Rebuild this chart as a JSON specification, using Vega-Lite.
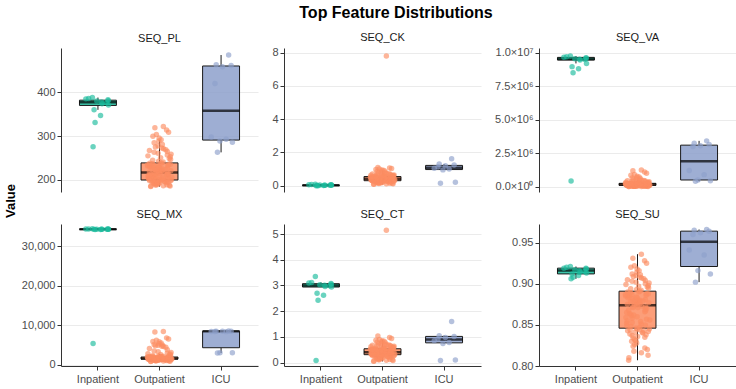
{
"$schema":"https://vega.github.io/schema/vega-lite/v6.json",
"padding":{"left":4,"right":4,"top":4,"bottom":4},
"title":{"text":"Top Feature Distributions","fontSize":16,"fontWeight":"bold","color":"#000000","anchor":"middle","dx":26,"offset":11},
"config":{"view":{"stroke":null},"font":"Liberation Sans",
 "title":{"font":"Liberation Sans","fontSize":11,"fontWeight":"normal","color":"#1a1a1a","offset":4},
 "axis":{"labelFont":"Liberation Sans","labelFontSize":11,"labelColor":"#4d4d4d","domainColor":"#333333","tickColor":"#333333","gridColor":"#ebebeb","tickSize":4,"labelPadding":2,"labelOverlap":false},
 "axisY":{"grid":true},"axisX":{"grid":false,"labelPadding":3}},
"datasets":{
"box":[
{"f":"PL","g":"Inpatient","lo":360,"q1":370,"med":377,"q3":382,"hi":388},
{"f":"PL","g":"Outpatient","lo":185,"q1":200,"med":217,"q3":239,"hi":291},
{"f":"PL","g":"ICU","lo":263,"q1":291,"med":358,"q3":460,"hi":485},
{"f":"CK","g":"Inpatient","lo":0,"q1":0,"med":0.02,"q3":0.04,"hi":0.09},
{"f":"CK","g":"Outpatient","lo":0.08,"q1":0.3,"med":0.42,"q3":0.55,"hi":0.91},
{"f":"CK","g":"ICU","lo":0.95,"q1":0.97,"med":1.08,"q3":1.22,"hi":1.3},
{"f":"VA","g":"Inpatient","lo":9200000,"q1":9450000,"med":9530000,"q3":9650000,"hi":9750000},
{"f":"VA","g":"Outpatient","lo":10000,"q1":100000,"med":160000,"q3":250000,"hi":460000},
{"f":"VA","g":"ICU","lo":400000,"q1":500000,"med":1900000,"q3":3100000,"hi":3420000},
{"f":"MX","g":"Inpatient","lo":34280,"q1":34300,"med":34340,"q3":34400,"hi":34450},
{"f":"MX","g":"Outpatient","lo":800,"q1":1420,"med":1550,"q3":1950,"hi":2700},
{"f":"MX","g":"ICU","lo":2950,"q1":4300,"med":8450,"q3":8500,"hi":8550},
{"f":"CT","g":"Inpatient","lo":2.94,"q1":2.94,"med":3.0,"q3":3.07,"hi":3.12},
{"f":"CT","g":"Outpatient","lo":0.05,"q1":0.31,"med":0.4,"q3":0.54,"hi":0.87},
{"f":"CT","g":"ICU","lo":0.74,"q1":0.77,"med":0.9,"q3":1.02,"hi":1.05},
{"f":"SU","g":"Inpatient","lo":0.906,"q1":0.912,"med":0.916,"q3":0.919,"hi":0.921},
{"f":"SU","g":"Outpatient","lo":0.807,"q1":0.846,"med":0.874,"q3":0.891,"hi":0.936},
{"f":"SU","g":"ICU","lo":0.902,"q1":0.921,"med":0.951,"q3":0.964,"hi":0.966}
],
"pts":[
{"g":"Outpatient","j":14,"PL":185,"CK":0.08,"VA":10000,"MX":800,"CT":0.05,"SU":0.807},
{"g":"Outpatient","j":15,"PL":186,"CK":0.10,"VA":12000,"MX":850,"CT":0.06,"SU":0.810},
{"g":"Outpatient","j":92,"PL":186,"CK":0.11,"VA":18000,"MX":900,"CT":0.08,"SU":0.813},
{"g":"Outpatient","j":65,"PL":187,"CK":0.12,"VA":21000,"MX":930,"CT":0.09,"SU":0.816},
{"g":"Outpatient","j":35,"PL":188,"CK":0.13,"VA":24000,"MX":960,"CT":0.10,"SU":0.818},
{"g":"Outpatient","j":89,"PL":188,"CK":0.14,"VA":28000,"MX":1000,"CT":0.11,"SU":0.820},
{"g":"Outpatient","j":79,"PL":189,"CK":0.15,"VA":31000,"MX":1030,"CT":0.12,"SU":0.822},
{"g":"Outpatient","j":32,"PL":190,"CK":0.16,"VA":34000,"MX":1060,"CT":0.13,"SU":0.824},
{"g":"Outpatient","j":38,"PL":190,"CK":0.17,"VA":38000,"MX":1090,"CT":0.14,"SU":0.826},
{"g":"Outpatient","j":46,"PL":191,"CK":0.18,"VA":41000,"MX":1110,"CT":0.15,"SU":0.828},
{"g":"Outpatient","j":26,"PL":192,"CK":0.19,"VA":44000,"MX":1140,"CT":0.16,"SU":0.830},
{"g":"Outpatient","j":43,"PL":192,"CK":0.19,"VA":48000,"MX":1160,"CT":0.17,"SU":0.831},
{"g":"Outpatient","j":38,"PL":193,"CK":0.20,"VA":51000,"MX":1180,"CT":0.18,"SU":0.832},
{"g":"Outpatient","j":32,"PL":193,"CK":0.21,"VA":54000,"MX":1200,"CT":0.19,"SU":0.834},
{"g":"Outpatient","j":79,"PL":194,"CK":0.22,"VA":57000,"MX":1220,"CT":0.20,"SU":0.835},
{"g":"Outpatient","j":50,"PL":194,"CK":0.22,"VA":61000,"MX":1240,"CT":0.20,"SU":0.836},
{"g":"Outpatient","j":28,"PL":195,"CK":0.23,"VA":64000,"MX":1250,"CT":0.21,"SU":0.837},
{"g":"Outpatient","j":84,"PL":195,"CK":0.24,"VA":67000,"MX":1270,"CT":0.22,"SU":0.838},
{"g":"Outpatient","j":19,"PL":196,"CK":0.24,"VA":70000,"MX":1280,"CT":0.23,"SU":0.839},
{"g":"Outpatient","j":71,"PL":196,"CK":0.25,"VA":73000,"MX":1300,"CT":0.24,"SU":0.840},
{"g":"Outpatient","j":69,"PL":197,"CK":0.26,"VA":77000,"MX":1310,"CT":0.24,"SU":0.841},
{"g":"Outpatient","j":39,"PL":197,"CK":0.26,"VA":80000,"MX":1320,"CT":0.25,"SU":0.841},
{"g":"Outpatient","j":93,"PL":198,"CK":0.27,"VA":83000,"MX":1330,"CT":0.26,"SU":0.842},
{"g":"Outpatient","j":75,"PL":198,"CK":0.27,"VA":86000,"MX":1340,"CT":0.26,"SU":0.843},
{"g":"Outpatient","j":10,"PL":198,"CK":0.28,"VA":89000,"MX":1350,"CT":0.27,"SU":0.843},
{"g":"Outpatient","j":58,"PL":199,"CK":0.28,"VA":92000,"MX":1360,"CT":0.28,"SU":0.844},
{"g":"Outpatient","j":20,"PL":199,"CK":0.29,"VA":95000,"MX":1370,"CT":0.28,"SU":0.844},
{"g":"Outpatient","j":97,"PL":200,"CK":0.29,"VA":98000,"MX":1380,"CT":0.29,"SU":0.845},
{"g":"Outpatient","j":49,"PL":200,"CK":0.30,"VA":101000,"MX":1390,"CT":0.30,"SU":0.845},
{"g":"Outpatient","j":44,"PL":200,"CK":0.30,"VA":104000,"MX":1400,"CT":0.31,"SU":0.846},
{"g":"Outpatient","j":59,"PL":201,"CK":0.31,"VA":107000,"MX":1405,"CT":0.31,"SU":0.847},
{"g":"Outpatient","j":23,"PL":201,"CK":0.31,"VA":110000,"MX":1410,"CT":0.31,"SU":0.848},
{"g":"Outpatient","j":7,"PL":202,"CK":0.32,"VA":113000,"MX":1415,"CT":0.32,"SU":0.849},
{"g":"Outpatient","j":81,"PL":202,"CK":0.32,"VA":116000,"MX":1420,"CT":0.32,"SU":0.850},
{"g":"Outpatient","j":64,"PL":203,"CK":0.33,"VA":118000,"MX":1425,"CT":0.32,"SU":0.851},
{"g":"Outpatient","j":6,"PL":203,"CK":0.33,"VA":121000,"MX":1430,"CT":0.33,"SU":0.852},
{"g":"Outpatient","j":28,"PL":204,"CK":0.34,"VA":123000,"MX":1435,"CT":0.33,"SU":0.853},
{"g":"Outpatient","j":62,"PL":205,"CK":0.34,"VA":126000,"MX":1440,"CT":0.33,"SU":0.854},
{"g":"Outpatient","j":8,"PL":205,"CK":0.34,"VA":128000,"MX":1445,"CT":0.34,"SU":0.855},
{"g":"Outpatient","j":99,"PL":206,"CK":0.35,"VA":130000,"MX":1450,"CT":0.34,"SU":0.856},
{"g":"Outpatient","j":86,"PL":206,"CK":0.35,"VA":132000,"MX":1455,"CT":0.34,"SU":0.857},
{"g":"Outpatient","j":28,"PL":207,"CK":0.36,"VA":134000,"MX":1460,"CT":0.35,"SU":0.858},
{"g":"Outpatient","j":3,"PL":208,"CK":0.36,"VA":136000,"MX":1465,"CT":0.35,"SU":0.859},
{"g":"Outpatient","j":48,"PL":208,"CK":0.36,"VA":138000,"MX":1470,"CT":0.35,"SU":0.860},
{"g":"Outpatient","j":25,"PL":209,"CK":0.37,"VA":140000,"MX":1475,"CT":0.36,"SU":0.861},
{"g":"Outpatient","j":34,"PL":209,"CK":0.37,"VA":142000,"MX":1480,"CT":0.36,"SU":0.862},
{"g":"Outpatient","j":21,"PL":210,"CK":0.38,"VA":144000,"MX":1485,"CT":0.36,"SU":0.863},
{"g":"Outpatient","j":17,"PL":211,"CK":0.38,"VA":146000,"MX":1490,"CT":0.37,"SU":0.864},
{"g":"Outpatient","j":6,"PL":211,"CK":0.38,"VA":148000,"MX":1495,"CT":0.37,"SU":0.865},
{"g":"Outpatient","j":79,"PL":212,"CK":0.39,"VA":150000,"MX":1500,"CT":0.37,"SU":0.866},
{"g":"Outpatient","j":82,"PL":212,"CK":0.39,"VA":152000,"MX":1505,"CT":0.38,"SU":0.867},
{"g":"Outpatient","j":14,"PL":213,"CK":0.39,"VA":154000,"MX":1510,"CT":0.38,"SU":0.868},
{"g":"Outpatient","j":80,"PL":213,"CK":0.40,"VA":156000,"MX":1515,"CT":0.38,"SU":0.869},
{"g":"Outpatient","j":86,"PL":214,"CK":0.40,"VA":158000,"MX":1520,"CT":0.38,"SU":0.870},
{"g":"Outpatient","j":51,"PL":214,"CK":0.40,"VA":160000,"MX":1525,"CT":0.39,"SU":0.871},
{"g":"Outpatient","j":32,"PL":215,"CK":0.41,"VA":162000,"MX":1530,"CT":0.39,"SU":0.871},
{"g":"Outpatient","j":82,"PL":215,"CK":0.41,"VA":164000,"MX":1535,"CT":0.39,"SU":0.872},
{"g":"Outpatient","j":30,"PL":216,"CK":0.41,"VA":166000,"MX":1540,"CT":0.40,"SU":0.872},
{"g":"Outpatient","j":66,"PL":216,"CK":0.42,"VA":168000,"MX":1545,"CT":0.40,"SU":0.873},
{"g":"Outpatient","j":47,"PL":217,"CK":0.42,"VA":170000,"MX":1550,"CT":0.40,"SU":0.874},
{"g":"Outpatient","j":9,"PL":218,"CK":0.43,"VA":172000,"MX":1560,"CT":0.41,"SU":0.875},
{"g":"Outpatient","j":38,"PL":218,"CK":0.43,"VA":174000,"MX":1570,"CT":0.41,"SU":0.875},
{"g":"Outpatient","j":44,"PL":219,"CK":0.43,"VA":177000,"MX":1580,"CT":0.42,"SU":0.876},
{"g":"Outpatient","j":60,"PL":220,"CK":0.44,"VA":179000,"MX":1590,"CT":0.42,"SU":0.876},
{"g":"Outpatient","j":95,"PL":221,"CK":0.44,"VA":182000,"MX":1600,"CT":0.43,"SU":0.877},
{"g":"Outpatient","j":50,"PL":221,"CK":0.45,"VA":184000,"MX":1610,"CT":0.43,"SU":0.877},
{"g":"Outpatient","j":58,"PL":222,"CK":0.45,"VA":187000,"MX":1620,"CT":0.44,"SU":0.878},
{"g":"Outpatient","j":22,"PL":223,"CK":0.45,"VA":189000,"MX":1640,"CT":0.44,"SU":0.878},
{"g":"Outpatient","j":31,"PL":224,"CK":0.46,"VA":192000,"MX":1660,"CT":0.45,"SU":0.879},
{"g":"Outpatient","j":72,"PL":224,"CK":0.46,"VA":194000,"MX":1680,"CT":0.45,"SU":0.879},
{"g":"Outpatient","j":53,"PL":225,"CK":0.47,"VA":197000,"MX":1700,"CT":0.46,"SU":0.880},
{"g":"Outpatient","j":59,"PL":226,"CK":0.47,"VA":199000,"MX":1720,"CT":0.46,"SU":0.880},
{"g":"Outpatient","j":40,"PL":227,"CK":0.47,"VA":202000,"MX":1740,"CT":0.47,"SU":0.881},
{"g":"Outpatient","j":81,"PL":227,"CK":0.48,"VA":205000,"MX":1760,"CT":0.47,"SU":0.881},
{"g":"Outpatient","j":28,"PL":228,"CK":0.48,"VA":208000,"MX":1780,"CT":0.48,"SU":0.882},
{"g":"Outpatient","j":48,"PL":229,"CK":0.49,"VA":211000,"MX":1800,"CT":0.48,"SU":0.883},
{"g":"Outpatient","j":11,"PL":230,"CK":0.49,"VA":214000,"MX":1820,"CT":0.49,"SU":0.883},
{"g":"Outpatient","j":17,"PL":230,"CK":0.50,"VA":217000,"MX":1840,"CT":0.49,"SU":0.884},
{"g":"Outpatient","j":45,"PL":231,"CK":0.50,"VA":220000,"MX":1860,"CT":0.50,"SU":0.884},
{"g":"Outpatient","j":2,"PL":232,"CK":0.50,"VA":223000,"MX":1880,"CT":0.50,"SU":0.885},
{"g":"Outpatient","j":84,"PL":233,"CK":0.51,"VA":226000,"MX":1900,"CT":0.51,"SU":0.886},
{"g":"Outpatient","j":10,"PL":233,"CK":0.51,"VA":229000,"MX":1920,"CT":0.51,"SU":0.886},
{"g":"Outpatient","j":27,"PL":234,"CK":0.52,"VA":232000,"MX":1940,"CT":0.51,"SU":0.887},
{"g":"Outpatient","j":1,"PL":235,"CK":0.52,"VA":235000,"MX":1960,"CT":0.52,"SU":0.887},
{"g":"Outpatient","j":93,"PL":236,"CK":0.53,"VA":238000,"MX":1980,"CT":0.52,"SU":0.888},
{"g":"Outpatient","j":85,"PL":236,"CK":0.53,"VA":241000,"MX":2000,"CT":0.52,"SU":0.888},
{"g":"Outpatient","j":21,"PL":237,"CK":0.54,"VA":244000,"MX":2020,"CT":0.53,"SU":0.889},
{"g":"Outpatient","j":10,"PL":238,"CK":0.54,"VA":247000,"MX":2050,"CT":0.53,"SU":0.890},
{"g":"Outpatient","j":55,"PL":238,"CK":0.55,"VA":250000,"MX":2080,"CT":0.54,"SU":0.890},
{"g":"Outpatient","j":59,"PL":239,"CK":0.55,"VA":253000,"MX":2100,"CT":0.54,"SU":0.891},
{"g":"Outpatient","j":64,"PL":241,"CK":0.56,"VA":262000,"MX":2150,"CT":0.55,"SU":0.892},
{"g":"Outpatient","j":46,"PL":243,"CK":0.57,"VA":270000,"MX":2200,"CT":0.56,"SU":0.893},
{"g":"Outpatient","j":22,"PL":245,"CK":0.58,"VA":281000,"MX":2300,"CT":0.57,"SU":0.894},
{"g":"Outpatient","j":94,"PL":247,"CK":0.59,"VA":289000,"MX":2400,"CT":0.58,"SU":0.895},
{"g":"Outpatient","j":89,"PL":249,"CK":0.60,"VA":298000,"MX":2500,"CT":0.59,"SU":0.896},
{"g":"Outpatient","j":54,"PL":251,"CK":0.61,"VA":311000,"MX":2600,"CT":0.60,"SU":0.897},
{"g":"Outpatient","j":93,"PL":253,"CK":0.62,"VA":322000,"MX":2700,"CT":0.61,"SU":0.898},
{"g":"Outpatient","j":3,"PL":255,"CK":0.63,"VA":334000,"MX":2800,"CT":0.62,"SU":0.899},
{"g":"Outpatient","j":81,"PL":257,"CK":0.64,"VA":349000,"MX":2950,"CT":0.63,"SU":0.900},
{"g":"Outpatient","j":96,"PL":259,"CK":0.65,"VA":362000,"MX":3100,"CT":0.64,"SU":0.901},
{"g":"Outpatient","j":44,"PL":261,"CK":0.66,"VA":381000,"MX":3300,"CT":0.65,"SU":0.902},
{"g":"Outpatient","j":28,"PL":263,"CK":0.68,"VA":398000,"MX":3500,"CT":0.66,"SU":0.903},
{"g":"Outpatient","j":81,"PL":265,"CK":0.69,"VA":423000,"MX":3800,"CT":0.67,"SU":0.904},
{"g":"Outpatient","j":9,"PL":267,"CK":0.71,"VA":441000,"MX":4100,"CT":0.68,"SU":0.905},
{"g":"Outpatient","j":75,"PL":269,"CK":0.72,"VA":462000,"MX":4400,"CT":0.69,"SU":0.906},
{"g":"Outpatient","j":66,"PL":271,"CK":0.74,"VA":484000,"MX":4600,"CT":0.70,"SU":0.907},
{"g":"Outpatient","j":59,"PL":273,"CK":0.76,"VA":505000,"MX":4700,"CT":0.72,"SU":0.908},
{"g":"Outpatient","j":33,"PL":275,"CK":0.78,"VA":532000,"MX":4800,"CT":0.73,"SU":0.909},
{"g":"Outpatient","j":44,"PL":278,"CK":0.80,"VA":566000,"MX":4900,"CT":0.75,"SU":0.910},
{"g":"Outpatient","j":61,"PL":281,"CK":0.82,"VA":603000,"MX":5000,"CT":0.77,"SU":0.911},
{"g":"Outpatient","j":28,"PL":285,"CK":0.85,"VA":641000,"MX":5100,"CT":0.79,"SU":0.912},
{"g":"Outpatient","j":47,"PL":289,"CK":0.88,"VA":683000,"MX":5300,"CT":0.81,"SU":0.914},
{"g":"Outpatient","j":56,"PL":292,"CK":0.91,"VA":722000,"MX":5500,"CT":0.83,"SU":0.916},
{"g":"Outpatient","j":48,"PL":296,"CK":0.94,"VA":781000,"MX":5800,"CT":0.85,"SU":0.918},
{"g":"Outpatient","j":23,"PL":300,"CK":0.97,"VA":852000,"MX":5900,"CT":0.87,"SU":0.920},
{"g":"Outpatient","j":37,"PL":304,"CK":1.00,"VA":918000,"MX":6200,"CT":0.90,"SU":0.922},
{"g":"Outpatient","j":86,"PL":309,"CK":1.03,"VA":1002000,"MX":6500,"CT":0.94,"SU":0.925},
{"g":"Outpatient","j":78,"PL":314,"CK":1.06,"VA":1098000,"MX":6800,"CT":0.98,"SU":0.928},
{"g":"Outpatient","j":31,"PL":319,"CK":1.10,"VA":1183000,"MX":8300,"CT":1.04,"SU":0.931},
{"g":"Outpatient","j":65,"PL":322,"CK":7.80,"VA":1248000,"MX":8400,"CT":5.15,"SU":0.936},
{"g":"Inpatient","j":27,"PL":388,"CK":0.09,"VA":9750000,"MX":34450,"CT":3.35,"SU":0.921},
{"g":"Inpatient","j":12,"PL":386,"CK":0.07,"VA":9700000,"MX":34420,"CT":3.12,"SU":0.920},
{"g":"Inpatient","j":1,"PL":385,"CK":0.06,"VA":9660000,"MX":34400,"CT":3.10,"SU":0.919},
{"g":"Inpatient","j":90,"PL":383,"CK":0.05,"VA":9620000,"MX":34380,"CT":3.08,"SU":0.919},
{"g":"Inpatient","j":91,"PL":381,"CK":0.04,"VA":9580000,"MX":34360,"CT":3.05,"SU":0.918},
{"g":"Inpatient","j":45,"PL":380,"CK":0.04,"VA":9550000,"MX":34350,"CT":3.03,"SU":0.917},
{"g":"Inpatient","j":64,"PL":378,"CK":0.03,"VA":9520000,"MX":34340,"CT":3.01,"SU":0.916},
{"g":"Inpatient","j":85,"PL":376,"CK":0.03,"VA":9500000,"MX":34330,"CT":2.99,"SU":0.915},
{"g":"Inpatient","j":66,"PL":374,"CK":0.02,"VA":9450000,"MX":34320,"CT":2.96,"SU":0.914},
{"g":"Inpatient","j":92,"PL":371,"CK":0.02,"VA":9200000,"MX":34310,"CT":2.94,"SU":0.913},
{"g":"Inpatient","j":34,"PL":360,"CK":0.01,"VA":8960000,"MX":34300,"CT":2.70,"SU":0.912},
{"g":"Inpatient","j":60,"PL":347,"CK":0.01,"VA":8800000,"MX":34290,"CT":2.62,"SU":0.910},
{"g":"Inpatient","j":38,"PL":331,"CK":0.00,"VA":8500000,"MX":34280,"CT":2.43,"SU":0.908},
{"g":"Inpatient","j":30,"PL":276,"CK":0.00,"VA":420000,"MX":5400,"CT":0.08,"SU":0.906},
{"g":"ICU","j":80,"PL":485,"CK":1.62,"VA":3420000,"MX":8550,"CT":1.60,"SU":0.966},
{"g":"ICU","j":30,"PL":463,"CK":1.30,"VA":3250000,"MX":8500,"CT":1.05,"SU":0.965},
{"g":"ICU","j":90,"PL":461,"CK":1.25,"VA":3150000,"MX":8480,"CT":1.02,"SU":0.964},
{"g":"ICU","j":55,"PL":458,"CK":1.20,"VA":3050000,"MX":8460,"CT":0.98,"SU":0.962},
{"g":"ICU","j":25,"PL":420,"CK":1.12,"VA":3000000,"MX":8420,"CT":0.92,"SU":0.960},
{"g":"ICU","j":10,"PL":298,"CK":1.05,"VA":1200000,"MX":8400,"CT":0.85,"SU":0.941},
{"g":"ICU","j":70,"PL":293,"CK":1.00,"VA":900000,"MX":8380,"CT":0.78,"SU":0.935},
{"g":"ICU","j":45,"PL":289,"CK":0.95,"VA":500000,"MX":3050,"CT":0.74,"SU":0.916},
{"g":"ICU","j":95,"PL":286,"CK":0.20,"VA":450000,"MX":3000,"CT":0.10,"SU":0.912},
{"g":"ICU","j":35,"PL":263,"CK":0.15,"VA":400000,"MX":2950,"CT":0.08,"SU":0.902}
]},
"hconcat":[
{"width":14,"height":306,"data":{"values":[{"t":"Value"}]},"mark":{"type":"text","angle":270,"fontSize":13,"fontWeight":"bold","font":"Liberation Sans","color":"#000000"},"encoding":{"text":{"field":"t","type":"nominal"}}},
{"columns":3,"spacing":{"row":17,"column":13},"concat":[
{"title":{"text":"SEQ_PL"},"width":197,"height":144,"resolve":{"scale":{"xOffset":"independent"}},"layer":[
 {"data":{"name":"box"},"transform":[{"filter":"datum.f==='PL'"}],"encoding":{"x":{"field":"g","type":"nominal","scale":{"type":"band","domain":["Inpatient","Outpatient","ICU"],"paddingInner":0,"paddingOuter":0.1},"axis":null}},"layer":[
  {"mark":{"type":"rule","color":"#1a1a1a","strokeWidth":1},"encoding":{"y":{"field":"lo","type":"quantitative","scale":{"domain":[172.6,501],"nice":false,"zero":false},"axis":{"values":[200,300,400],"title":null}},"y2":{"field":"q1"}}},
  {"mark":{"type":"rule","color":"#1a1a1a","strokeWidth":1},"encoding":{"y":{"field":"q3","type":"quantitative","scale":{"domain":[172.6,501],"nice":false,"zero":false},"axis":{"values":[200,300,400],"title":null}},"y2":{"field":"hi"}}},
  {"mark":{"type":"bar","width":{"band":0.6},"stroke":"#1a1a1a","strokeWidth":1,"fillOpacity":0.85},"encoding":{"y":{"field":"q1","type":"quantitative","scale":{"domain":[172.6,501],"nice":false,"zero":false},"axis":{"values":[200,300,400],"title":null}},"y2":{"field":"q3"},"color":{"field":"g","type":"nominal","scale":{"domain":["Inpatient","Outpatient","ICU"],"range":["#1abc9c","#fc8d62","#8da0cb"]},"legend":null}}},
  {"mark":{"type":"tick","color":"#000000","thickness":2.5,"size":37},"encoding":{"y":{"field":"med","type":"quantitative","scale":{"domain":[172.6,501],"nice":false,"zero":false},"axis":{"values":[200,300,400],"title":null}}}}
 ]},
 {"data":{"name":"pts"},"mark":{"type":"circle","size":30,"opacity":0.65},"encoding":{"x":{"field":"g","type":"nominal","scale":{"type":"band","domain":["Inpatient","Outpatient","ICU"],"paddingInner":0,"paddingOuter":0.1},"axis":null},"xOffset":{"field":"j","type":"quantitative","scale":{"domain":[-74.25,173.25]}},"y":{"field":"PL","type":"quantitative","scale":{"domain":[172.6,501],"nice":false,"zero":false},"axis":{"values":[200,300,400],"title":null}},"color":{"field":"g","type":"nominal","scale":{"domain":["Inpatient","Outpatient","ICU"],"range":["#1abc9c","#fc8d62","#8da0cb"]},"legend":null}}}
]},
{"title":{"text":"SEQ_CK"},"width":197,"height":144,"resolve":{"scale":{"xOffset":"independent"}},"layer":[
 {"data":{"name":"box"},"transform":[{"filter":"datum.f==='CK'"}],"encoding":{"x":{"field":"g","type":"nominal","scale":{"type":"band","domain":["Inpatient","Outpatient","ICU"],"paddingInner":0,"paddingOuter":0.1},"axis":null}},"layer":[
  {"mark":{"type":"rule","color":"#1a1a1a","strokeWidth":1},"encoding":{"y":{"field":"lo","type":"quantitative","scale":{"domain":[-0.38,8.28],"nice":false,"zero":false},"axis":{"values":[0,2,4,6,8],"title":null}},"y2":{"field":"q1"}}},
  {"mark":{"type":"rule","color":"#1a1a1a","strokeWidth":1},"encoding":{"y":{"field":"q3","type":"quantitative","scale":{"domain":[-0.38,8.28],"nice":false,"zero":false},"axis":{"values":[0,2,4,6,8],"title":null}},"y2":{"field":"hi"}}},
  {"mark":{"type":"bar","width":{"band":0.6},"stroke":"#1a1a1a","strokeWidth":1,"fillOpacity":0.85},"encoding":{"y":{"field":"q1","type":"quantitative","scale":{"domain":[-0.38,8.28],"nice":false,"zero":false},"axis":{"values":[0,2,4,6,8],"title":null}},"y2":{"field":"q3"},"color":{"field":"g","type":"nominal","scale":{"domain":["Inpatient","Outpatient","ICU"],"range":["#1abc9c","#fc8d62","#8da0cb"]},"legend":null}}},
  {"mark":{"type":"tick","color":"#000000","thickness":2.5,"size":37},"encoding":{"y":{"field":"med","type":"quantitative","scale":{"domain":[-0.38,8.28],"nice":false,"zero":false},"axis":{"values":[0,2,4,6,8],"title":null}}}}
 ]},
 {"data":{"name":"pts"},"mark":{"type":"circle","size":30,"opacity":0.65},"encoding":{"x":{"field":"g","type":"nominal","scale":{"type":"band","domain":["Inpatient","Outpatient","ICU"],"paddingInner":0,"paddingOuter":0.1},"axis":null},"xOffset":{"field":"j","type":"quantitative","scale":{"domain":[-74.25,173.25]}},"y":{"field":"CK","type":"quantitative","scale":{"domain":[-0.38,8.28],"nice":false,"zero":false},"axis":{"values":[0,2,4,6,8],"title":null}},"color":{"field":"g","type":"nominal","scale":{"domain":["Inpatient","Outpatient","ICU"],"range":["#1abc9c","#fc8d62","#8da0cb"]},"legend":null}}}
]},
{"title":{"text":"SEQ_VA"},"width":197,"height":144,"resolve":{"scale":{"xOffset":"independent"}},"layer":[
 {"data":{"name":"box"},"transform":[{"filter":"datum.f==='VA'"}],"encoding":{"x":{"field":"g","type":"nominal","scale":{"type":"band","domain":["Inpatient","Outpatient","ICU"],"paddingInner":0,"paddingOuter":0.1},"axis":null}},"layer":[
  {"mark":{"type":"rule","color":"#1a1a1a","strokeWidth":1},"encoding":{"y":{"field":"lo","type":"quantitative","scale":{"domain":[-396000,10350000],"nice":false,"zero":false},"axis":{"values":[0,2500000,5000000,7500000,10000000],"title":null,"labelExpr":"datum.value == 0 ? '0.0×10⁰' : (datum.value >= 10000000 ? '1.0×10⁷' : format(datum.value/1000000, '.1f') + '×10⁶')"}},"y2":{"field":"q1"}}},
  {"mark":{"type":"rule","color":"#1a1a1a","strokeWidth":1},"encoding":{"y":{"field":"q3","type":"quantitative","scale":{"domain":[-396000,10350000],"nice":false,"zero":false},"axis":{"values":[0,2500000,5000000,7500000,10000000],"title":null,"labelExpr":"datum.value == 0 ? '0.0×10⁰' : (datum.value >= 10000000 ? '1.0×10⁷' : format(datum.value/1000000, '.1f') + '×10⁶')"}},"y2":{"field":"hi"}}},
  {"mark":{"type":"bar","width":{"band":0.6},"stroke":"#1a1a1a","strokeWidth":1,"fillOpacity":0.85},"encoding":{"y":{"field":"q1","type":"quantitative","scale":{"domain":[-396000,10350000],"nice":false,"zero":false},"axis":{"values":[0,2500000,5000000,7500000,10000000],"title":null,"labelExpr":"datum.value == 0 ? '0.0×10⁰' : (datum.value >= 10000000 ? '1.0×10⁷' : format(datum.value/1000000, '.1f') + '×10⁶')"}},"y2":{"field":"q3"},"color":{"field":"g","type":"nominal","scale":{"domain":["Inpatient","Outpatient","ICU"],"range":["#1abc9c","#fc8d62","#8da0cb"]},"legend":null}}},
  {"mark":{"type":"tick","color":"#000000","thickness":2.5,"size":37},"encoding":{"y":{"field":"med","type":"quantitative","scale":{"domain":[-396000,10350000],"nice":false,"zero":false},"axis":{"values":[0,2500000,5000000,7500000,10000000],"title":null,"labelExpr":"datum.value == 0 ? '0.0×10⁰' : (datum.value >= 10000000 ? '1.0×10⁷' : format(datum.value/1000000, '.1f') + '×10⁶')"}}}}
 ]},
 {"data":{"name":"pts"},"mark":{"type":"circle","size":30,"opacity":0.65},"encoding":{"x":{"field":"g","type":"nominal","scale":{"type":"band","domain":["Inpatient","Outpatient","ICU"],"paddingInner":0,"paddingOuter":0.1},"axis":null},"xOffset":{"field":"j","type":"quantitative","scale":{"domain":[-74.25,173.25]}},"y":{"field":"VA","type":"quantitative","scale":{"domain":[-396000,10350000],"nice":false,"zero":false},"axis":{"values":[0,2500000,5000000,7500000,10000000],"title":null,"labelExpr":"datum.value == 0 ? '0.0×10⁰' : (datum.value >= 10000000 ? '1.0×10⁷' : format(datum.value/1000000, '.1f') + '×10⁶')"}},"color":{"field":"g","type":"nominal","scale":{"domain":["Inpatient","Outpatient","ICU"],"range":["#1abc9c","#fc8d62","#8da0cb"]},"legend":null}}}
]},
{"title":{"text":"SEQ_MX"},"width":197,"height":142,"resolve":{"scale":{"xOffset":"independent"}},"layer":[
 {"data":{"name":"box"},"transform":[{"filter":"datum.f==='MX'"}],"encoding":{"x":{"field":"g","type":"nominal","scale":{"type":"band","domain":["Inpatient","Outpatient","ICU"],"paddingInner":0,"paddingOuter":0.1},"axis":{"title":null,"labelAngle":0}}},"layer":[
  {"mark":{"type":"rule","color":"#1a1a1a","strokeWidth":1},"encoding":{"y":{"field":"lo","type":"quantitative","scale":{"domain":[-330,35660],"nice":false,"zero":false},"axis":{"values":[0,10000,20000,30000],"format":",.0f","title":null}},"y2":{"field":"q1"}}},
  {"mark":{"type":"rule","color":"#1a1a1a","strokeWidth":1},"encoding":{"y":{"field":"q3","type":"quantitative","scale":{"domain":[-330,35660],"nice":false,"zero":false},"axis":{"values":[0,10000,20000,30000],"format":",.0f","title":null}},"y2":{"field":"hi"}}},
  {"mark":{"type":"bar","width":{"band":0.6},"stroke":"#1a1a1a","strokeWidth":1,"fillOpacity":0.85},"encoding":{"y":{"field":"q1","type":"quantitative","scale":{"domain":[-330,35660],"nice":false,"zero":false},"axis":{"values":[0,10000,20000,30000],"format":",.0f","title":null}},"y2":{"field":"q3"},"color":{"field":"g","type":"nominal","scale":{"domain":["Inpatient","Outpatient","ICU"],"range":["#1abc9c","#fc8d62","#8da0cb"]},"legend":null}}},
  {"mark":{"type":"tick","color":"#000000","thickness":2.5,"size":37},"encoding":{"y":{"field":"med","type":"quantitative","scale":{"domain":[-330,35660],"nice":false,"zero":false},"axis":{"values":[0,10000,20000,30000],"format":",.0f","title":null}}}}
 ]},
 {"data":{"name":"pts"},"mark":{"type":"circle","size":30,"opacity":0.65},"encoding":{"x":{"field":"g","type":"nominal","scale":{"type":"band","domain":["Inpatient","Outpatient","ICU"],"paddingInner":0,"paddingOuter":0.1},"axis":{"title":null,"labelAngle":0}},"xOffset":{"field":"j","type":"quantitative","scale":{"domain":[-74.25,173.25]}},"y":{"field":"MX","type":"quantitative","scale":{"domain":[-330,35660],"nice":false,"zero":false},"axis":{"values":[0,10000,20000,30000],"format":",.0f","title":null}},"color":{"field":"g","type":"nominal","scale":{"domain":["Inpatient","Outpatient","ICU"],"range":["#1abc9c","#fc8d62","#8da0cb"]},"legend":null}}}
]},
{"title":{"text":"SEQ_CT"},"width":197,"height":142,"resolve":{"scale":{"xOffset":"independent"}},"layer":[
 {"data":{"name":"box"},"transform":[{"filter":"datum.f==='CT'"}],"encoding":{"x":{"field":"g","type":"nominal","scale":{"type":"band","domain":["Inpatient","Outpatient","ICU"],"paddingInner":0,"paddingOuter":0.1},"axis":{"title":null,"labelAngle":0}}},"layer":[
  {"mark":{"type":"rule","color":"#1a1a1a","strokeWidth":1},"encoding":{"y":{"field":"lo","type":"quantitative","scale":{"domain":[-0.13,5.39],"nice":false,"zero":false},"axis":{"values":[0,1,2,3,4,5],"title":null}},"y2":{"field":"q1"}}},
  {"mark":{"type":"rule","color":"#1a1a1a","strokeWidth":1},"encoding":{"y":{"field":"q3","type":"quantitative","scale":{"domain":[-0.13,5.39],"nice":false,"zero":false},"axis":{"values":[0,1,2,3,4,5],"title":null}},"y2":{"field":"hi"}}},
  {"mark":{"type":"bar","width":{"band":0.6},"stroke":"#1a1a1a","strokeWidth":1,"fillOpacity":0.85},"encoding":{"y":{"field":"q1","type":"quantitative","scale":{"domain":[-0.13,5.39],"nice":false,"zero":false},"axis":{"values":[0,1,2,3,4,5],"title":null}},"y2":{"field":"q3"},"color":{"field":"g","type":"nominal","scale":{"domain":["Inpatient","Outpatient","ICU"],"range":["#1abc9c","#fc8d62","#8da0cb"]},"legend":null}}},
  {"mark":{"type":"tick","color":"#000000","thickness":2.5,"size":37},"encoding":{"y":{"field":"med","type":"quantitative","scale":{"domain":[-0.13,5.39],"nice":false,"zero":false},"axis":{"values":[0,1,2,3,4,5],"title":null}}}}
 ]},
 {"data":{"name":"pts"},"mark":{"type":"circle","size":30,"opacity":0.65},"encoding":{"x":{"field":"g","type":"nominal","scale":{"type":"band","domain":["Inpatient","Outpatient","ICU"],"paddingInner":0,"paddingOuter":0.1},"axis":{"title":null,"labelAngle":0}},"xOffset":{"field":"j","type":"quantitative","scale":{"domain":[-74.25,173.25]}},"y":{"field":"CT","type":"quantitative","scale":{"domain":[-0.13,5.39],"nice":false,"zero":false},"axis":{"values":[0,1,2,3,4,5],"title":null}},"color":{"field":"g","type":"nominal","scale":{"domain":["Inpatient","Outpatient","ICU"],"range":["#1abc9c","#fc8d62","#8da0cb"]},"legend":null}}}
]},
{"title":{"text":"SEQ_SU"},"width":197,"height":142,"resolve":{"scale":{"xOffset":"independent"}},"layer":[
 {"data":{"name":"box"},"transform":[{"filter":"datum.f==='SU'"}],"encoding":{"x":{"field":"g","type":"nominal","scale":{"type":"band","domain":["Inpatient","Outpatient","ICU"],"paddingInner":0,"paddingOuter":0.1},"axis":{"title":null,"labelAngle":0}}},"layer":[
  {"mark":{"type":"rule","color":"#1a1a1a","strokeWidth":1},"encoding":{"y":{"field":"lo","type":"quantitative","scale":{"domain":[0.8,0.9727],"nice":false,"zero":false},"axis":{"values":[0.8,0.85,0.9,0.95],"format":".2f","title":null}},"y2":{"field":"q1"}}},
  {"mark":{"type":"rule","color":"#1a1a1a","strokeWidth":1},"encoding":{"y":{"field":"q3","type":"quantitative","scale":{"domain":[0.8,0.9727],"nice":false,"zero":false},"axis":{"values":[0.8,0.85,0.9,0.95],"format":".2f","title":null}},"y2":{"field":"hi"}}},
  {"mark":{"type":"bar","width":{"band":0.6},"stroke":"#1a1a1a","strokeWidth":1,"fillOpacity":0.85},"encoding":{"y":{"field":"q1","type":"quantitative","scale":{"domain":[0.8,0.9727],"nice":false,"zero":false},"axis":{"values":[0.8,0.85,0.9,0.95],"format":".2f","title":null}},"y2":{"field":"q3"},"color":{"field":"g","type":"nominal","scale":{"domain":["Inpatient","Outpatient","ICU"],"range":["#1abc9c","#fc8d62","#8da0cb"]},"legend":null}}},
  {"mark":{"type":"tick","color":"#000000","thickness":2.5,"size":37},"encoding":{"y":{"field":"med","type":"quantitative","scale":{"domain":[0.8,0.9727],"nice":false,"zero":false},"axis":{"values":[0.8,0.85,0.9,0.95],"format":".2f","title":null}}}}
 ]},
 {"data":{"name":"pts"},"mark":{"type":"circle","size":30,"opacity":0.65},"encoding":{"x":{"field":"g","type":"nominal","scale":{"type":"band","domain":["Inpatient","Outpatient","ICU"],"paddingInner":0,"paddingOuter":0.1},"axis":{"title":null,"labelAngle":0}},"xOffset":{"field":"j","type":"quantitative","scale":{"domain":[-74.25,173.25]}},"y":{"field":"SU","type":"quantitative","scale":{"domain":[0.8,0.9727],"nice":false,"zero":false},"axis":{"values":[0.8,0.85,0.9,0.95],"format":".2f","title":null}},"color":{"field":"g","type":"nominal","scale":{"domain":["Inpatient","Outpatient","ICU"],"range":["#1abc9c","#fc8d62","#8da0cb"]},"legend":null}}}
]}
]}
],
"spacing":3
}
